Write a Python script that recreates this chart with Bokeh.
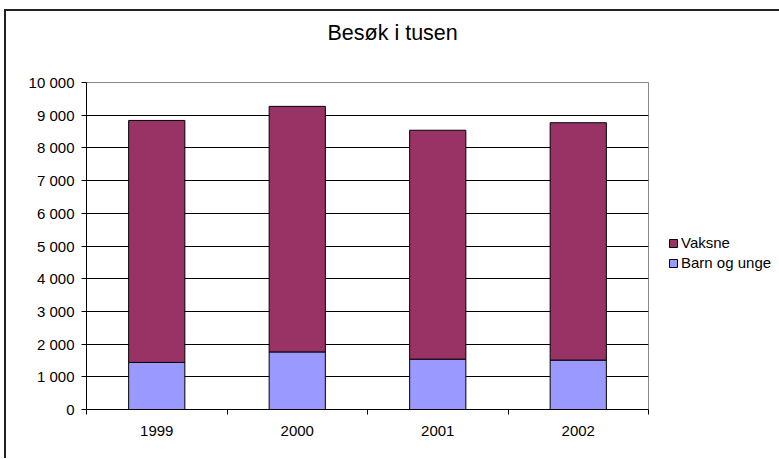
from bokeh.plotting import figure
from bokeh.models import FixedTicker, Range1d, Legend, LegendItem, ColumnDataSource, Title
from bokeh.embed import file_html
from bokeh.resources import INLINE

years = ["1999", "2000", "2001", "2002"]
barn_og_unge = [1440, 1760, 1540, 1510]
vaksne = [7400, 7510, 7000, 7260]
y_ticks = [0, 1000, 2000, 3000, 4000, 5000, 6000, 7000, 8000, 9000, 10000]
y_labels = ["0", "1 000", "2 000", "3 000", "4 000", "5 000", "6 000", "7 000", "8 000", "9 000", "10 000"]

FONT = "Liberation Sans"
xs = [i + 0.5 for i in range(len(years))]
tops = [b + v for b, v in zip(barn_og_unge, vaksne)]
src = ColumnDataSource(dict(x=xs, barn=barn_og_unge, top=tops))

p = figure(frame_width=562, frame_height=327, output_backend="svg", toolbar_location=None,
           x_range=Range1d(0, len(years)), y_range=Range1d(0, 10000),
           min_border_left=80, min_border_right=130, min_border_top=71, min_border_bottom=49)
p.styles = {"margin-left": "4px", "margin-top": "9px",
            "border-left": "2px solid #222", "border-top": "2px solid #222"}

r1 = p.vbar(x="x", width=0.4, bottom=0, top="barn", source=src,
            fill_color="#9999FF", line_color="black", line_width=1)
r2 = p.vbar(x="x", width=0.4, bottom="barn", top="top", source=src,
            fill_color="#993366", line_color="black", line_width=1)

# spacer between the frame and the title (pushes title upward)
spacer = Title(text=" ", text_font_size="1px", standoff=33)
p.add_layout(spacer, "above")

p.title.text = "Besøk i tusen"
p.title.text_font = FONT
p.title.text_font_size = "21.5px"
p.title.text_font_style = "normal"
p.title.align = "left"
p.title.offset = 241
p.title.vertical_align = "top"
p.title.standoff = 0
p.title.text_color = "black"

p.xgrid.visible = False
p.ygrid.grid_line_color = "black"
p.ygrid.grid_line_width = 1
p.ygrid.ticker = FixedTicker(ticks=y_ticks)
p.outline_line_color = "#888888"
p.outline_line_width = 1
p.background_fill_color = "white"

ya = p.yaxis[0]
ya.ticker = FixedTicker(ticks=y_ticks)
ya.major_label_overrides = {t: l for t, l in zip(y_ticks, y_labels)}
ya.axis_line_color = "black"
ya.major_tick_line_color = "black"
ya.major_tick_out = 5
ya.major_tick_in = 0
ya.minor_tick_line_color = None
ya.major_label_text_font = FONT
ya.major_label_text_font_size = "15px"
ya.major_label_text_color = "black"
ya.major_label_standoff = 7

xa = p.xaxis[0]
xa.ticker = FixedTicker(ticks=xs, minor_ticks=list(range(len(years) + 1)))
xa.major_label_overrides = {x: y for x, y in zip(xs, years)}
xa.axis_line_color = "black"
xa.major_tick_line_color = None
xa.major_tick_out = 0
xa.major_tick_in = 0
xa.minor_tick_line_color = "black"
xa.minor_tick_out = 5
xa.minor_tick_in = 0
xa.major_label_text_font = FONT
xa.major_label_text_font_size = "15px"
xa.major_label_text_color = "black"
xa.major_label_standoff = 11

legend = Legend(items=[LegendItem(label="Vaksne", renderers=[r2]),
                       LegendItem(label="Barn og unge", renderers=[r1])],
                location=(20, 138))
legend.padding = 0
legend.margin = 0
legend.border_line_color = None
legend.background_fill_alpha = 0
legend.glyph_width = 10
legend.glyph_height = 10
legend.label_standoff = 3
legend.spacing = 3
legend.label_text_font = FONT
legend.label_text_font_size = "15px"
legend.label_text_color = "black"
p.add_layout(legend, "right")

open("out.html", "w").write(file_html(p, INLINE))
